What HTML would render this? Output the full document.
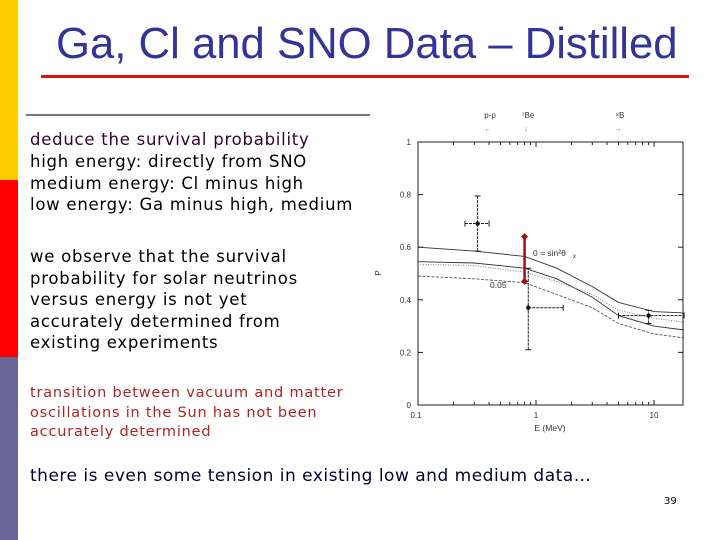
<!DOCTYPE html>
<html><head><meta charset="utf-8"><style>
body{margin:0;width:720px;height:540px;background:#fff;position:relative;overflow:hidden;font-family:"DejaVu Sans","Liberation Sans",sans-serif}
.t{position:absolute;left:30px;white-space:nowrap}
</style></head><body>
<div style="position:absolute;left:0;top:0;width:18px;height:180px;background:#ffcc00"></div>
<div style="position:absolute;left:0;top:180px;width:18px;height:177px;background:#ff0000"></div>
<div style="position:absolute;left:0;top:357px;width:18px;height:183px;background:#666699"></div>
<div style="position:absolute;left:56px;top:19px;font:43.7px 'Liberation Sans',sans-serif;color:#333399;white-space:nowrap">Ga, Cl and SNO Data – Distilled</div>
<div style="position:absolute;left:41px;top:75px;width:648px;height:3px;background:#dd1111"></div>
<div style="position:absolute;left:26px;top:114px;width:344px;height:2px;background:#777788"></div>
<div style="font-size:16.5px;line-height:21.7px;letter-spacing:0.75px">
<div class="t" style="top:129px;color:#330033">deduce the survival probability</div>
<div class="t" style="top:151px;color:#000">high energy: directly from SNO</div>
<div class="t" style="top:173px;color:#000">medium energy: Cl minus high</div>
<div class="t" style="top:194px;color:#000">low energy: Ga minus high, medium</div>
<div class="t" style="top:246px;color:#000;line-height:21.6px">we observe that the survival<br>probability for solar neutrinos<br>versus energy is not yet<br>accurately determined from<br>existing experiments</div>
<div class="t" style="top:384px;color:#b22222;font-size:14.5px;line-height:19.7px;letter-spacing:0.8px">transition between vacuum and matter<br>oscillations in the Sun has not been<br>accurately determined</div>
<div class="t" style="top:466px;color:#000033;font-size:17px;letter-spacing:0.5px">there is even some tension in existing low and medium data…</div>
</div>
<div style="position:absolute;left:664px;top:496px;font-size:10px;color:#000">39</div>
<svg id="chart" width="720" height="540" style="position:absolute;left:0;top:0" font-family="Liberation Sans,sans-serif"></svg>
<script>
const xTicks=[0.1,1,10];
const xTickLabels=["0.1","1","10"];
const yTicks=[0,0.2,0.4,0.6,0.8,1];
const yTickLabels=["0","0.2","0.4","0.6","0.8","1"];
const curveE=[0.1,0.3,0.8,1.5,3,5,10,18];
const curveA=[0.6,0.585,0.565,0.52,0.45,0.39,0.355,0.35];
const curveB=[0.545,0.54,0.52,0.48,0.41,0.34,0.3,0.285];
const curveC=[0.535,0.53,0.505,0.47,0.42,0.36,0.33,0.315];
const curveD=[0.49,0.48,0.465,0.42,0.37,0.31,0.27,0.255];
const ptE=[0.32,0.86,9];
const ptP=[0.69,0.37,0.34];
const ptPlo=[0.585,0.21,0.31];
const ptPhi=[0.795,0.52,0.36];
const ptElo=[0.25,0.86,5];
const ptEhi=[0.4,1.7,18];
const redE=0.8, redLo=0.47, redHi=0.64;
const NS="http://www.w3.org/2000/svg";
const svg=document.getElementById('chart');
const X0=418,X1=683,Y0=405,Y1=142,DEC=118;
const sx=e=>X0+DEC*Math.log10(e/0.1);
const sy=p=>Y0-(Y0-Y1)*p;
function mk(t,a,txt){const el=document.createElementNS(NS,t);for(const k in a)el.setAttribute(k,a[k]);if(txt!=null)el.textContent=txt;svg.appendChild(el);return el;}
let f=mk('rect',{x:X0,y:Y1,width:X1-X0,height:Y0-Y1,fill:'none',stroke:'#222','stroke-width':1});


yTicks.forEach((v,i)=>{
 let l=mk('line',{x1:X0,x2:X0+5,y1:sy(v),y2:sy(v),stroke:'#222'});
 
 
 mk('line',{x1:X1-5,x2:X1,y1:sy(v),y2:sy(v),stroke:'#222'});
 let t=mk('text',{x:X0-7,y:sy(v)+3,'font-size':8,'text-anchor':'end',fill:'#333'},yTickLabels[i]);
 
 
});
xTicks.forEach((v,i)=>{
 let t=mk('text',{x:sx(v)+(i==0?-2:0),y:Y0+13,'font-size':8,'text-anchor':'middle',fill:'#333'},xTickLabels[i]);
 
 
});
for(let d=0.1;d<20;d*=10){for(let m=1;m<10;m++){const e=d*m;if(e>18.5)break;
 mk('line',{x1:sx(e),x2:sx(e),y1:Y0,y2:Y0-(m==1?5:3),stroke:'#222'});
 mk('line',{x1:sx(e),x2:sx(e),y1:Y1,y2:Y1+(m==1?5:3),stroke:'#222'});}}
let xl=mk('text',{x:550,y:431,'font-size':8.5,'text-anchor':'middle',fill:'#333'},'E (MeV)');


let yl=mk('text',{x:381,y:273,'font-size':8,'text-anchor':'middle',fill:'#333',transform:'rotate(-90 381 273)'},'P');


[[curveA,'#333',''],[curveB,'#333',''],[curveC,'#777','1,1.5'],[curveD,'#555','3,1.5']].forEach(([c,col,da],k)=>{
 const d=curveE.map((e,i)=>(i?'L':'M')+sx(e).toFixed(1)+','+sy(c[i]).toFixed(1)).join(' ');
 let p=mk('path',{d:d,fill:'none',stroke:col,'stroke-width':0.9,'stroke-dasharray':da});
 
 
});
ptE.forEach((e,i)=>{
 mk('line',{x1:sx(e),x2:sx(e),y1:sy(ptPlo[i]),y2:sy(ptPhi[i]),stroke:'#222','stroke-dasharray':'3,1'});
 mk('line',{x1:sx(ptElo[i]),x2:sx(ptEhi[i]),y1:sy(ptP[i]),y2:sy(ptP[i]),stroke:'#222','stroke-dasharray':'3,1'});
 [[sx(e)-3,sy(ptPlo[i]),sx(e)+3,sy(ptPlo[i])],[sx(e)-3,sy(ptPhi[i]),sx(e)+3,sy(ptPhi[i])],[sx(ptElo[i]),sy(ptP[i])-3,sx(ptElo[i]),sy(ptP[i])+3],[sx(ptEhi[i]),sy(ptP[i])-3,sx(ptEhi[i]),sy(ptP[i])+3]].forEach(c=>mk('line',{x1:c[0],y1:c[1],x2:c[2],y2:c[3],stroke:'#222'}));
 let m=mk('circle',{cx:sx(e),cy:sy(ptP[i]),r:2.2,fill:'#111'});
 
 
});
let rb=mk('line',{x1:sx(redE),x2:sx(redE),y1:sy(redLo),y2:sy(redHi),stroke:'#a01010','stroke-width':2.5});


[redLo,redHi].forEach(v=>mk('rect',{x:sx(redE)-2.5,y:sy(v)-2.5,width:5,height:5,fill:'#a01010',transform:`rotate(45 ${sx(redE)} ${sy(v)})`}));
let a1=mk('text',{x:533,y:256,'font-size':8.5,fill:'#333'},'0 = sin²θ');


mk('text',{x:573,y:258,'font-size':6,fill:'#333'},'x');
let a2=mk('text',{x:490,y:288,'font-size':8.5,fill:'#333'},'0.05');


[['p-p',490,118,'←'],['⁷Be',528,118,'↓'],['⁸B',620,118,'→']].forEach(s=>{
 let t=mk('text',{x:s[1],y:s[2],'font-size':8,'text-anchor':'middle',fill:'#333'},s[0]);
 
 
 mk('text',{x:s[1]-2,y:s[2]+13,'font-size':7,'text-anchor':'middle',fill:'#555'},s[3]);
});
</script>
</body></html>
